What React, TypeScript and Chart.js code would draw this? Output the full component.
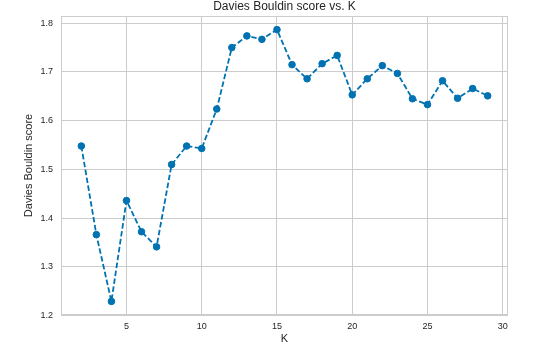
import React, { useEffect, useRef } from "react";
import { Chart, registerables } from "chart.js";

Chart.register(...registerables);

const kValues = [2, 3, 4, 5, 6, 7, 8, 9, 10, 11, 12, 13, 14, 15, 16, 17, 18, 19, 20, 21, 22, 23, 24, 25, 26, 27, 28, 29];
const dbScores = [
  1.548, 1.366, 1.229, 1.436, 1.372, 1.341, 1.510, 1.548, 1.543, 1.624,
  1.750, 1.774, 1.767, 1.787, 1.715, 1.686, 1.717, 1.734, 1.653, 1.686,
  1.713, 1.697, 1.645, 1.633, 1.682, 1.646, 1.666, 1.651,
];
const xTicks = [5, 10, 15, 20, 25, 30];
const yTicks = [1.2, 1.3, 1.4, 1.5, 1.6, 1.7, 1.8];

const FONT = "'Liberation Sans', Arial, sans-serif";
const LINE_COLOR = "#0072B2";
const GRID = "#cccccc";
const TEXT = "#262626";

const titlePlugin = {
  id: "customTitle",
  afterDraw(chart: any) {
    const { ctx, chartArea } = chart;
    ctx.save();
    ctx.font = `12px ${FONT}`;
    ctx.fillStyle = TEXT;
    ctx.textAlign = "center";
    ctx.textBaseline = "middle";
    ctx.fillText("Davies Bouldin score vs. K", (chartArea.left + chartArea.right) / 2, 7);
    ctx.restore();
  },
};

const framePlugin = {
  id: "frame",
  beforeDatasetsDraw(chart: any) {
    const { ctx, chartArea } = chart;
    ctx.save();
    ctx.strokeStyle = GRID;
    ctx.lineWidth = 1;
    ctx.strokeRect(
      Math.round(chartArea.left) + 0.5,
      Math.round(chartArea.top) + 0.5,
      Math.round(chartArea.right - chartArea.left) - 1,
      Math.round(chartArea.bottom - chartArea.top) - 1
    );
    ctx.restore();
  },
};

export default function App() {
  const ref = useRef<HTMLCanvasElement | null>(null);

  useEffect(() => {
    if (!ref.current) return;
    const dataPts = kValues.map((k, i) => ({ x: k, y: dbScores[i] }));
    const xMin = Math.min(...kValues);
    const xMax = Math.max(...kValues);
    const yMin = Math.min(...dbScores);
    const yMax = Math.max(...dbScores);
    const xm = (xMax - xMin) * 0.05;
    const ym = (yMax - yMin) * 0.05;
    const chart = new Chart(ref.current, {
      type: "line",
      data: {
        datasets: [
          {
            data: dataPts,
            borderColor: LINE_COLOR,
            backgroundColor: LINE_COLOR,
            borderWidth: 1.8,
            borderDash: [5.5, 2.5],
            pointRadius: 3.3,
            pointBorderWidth: 1,
            pointBackgroundColor: LINE_COLOR,
            pointBorderColor: LINE_COLOR,
            tension: 0,
            fill: false,
          },
        ],
      },
      options: {
        animation: false,
        responsive: false,
        events: [],
        layout: { padding: { top: 16, right: 25, left: 0, bottom: 0 } },
        plugins: {
          legend: { display: false },
          title: { display: false },
          tooltip: { enabled: false },
        },
        scales: {
          x: {
            type: "linear",
            min: xMin - xm,
            max: xMax + xm,
            afterFit(scale: any) {
              scale.height = 34;
            },
            afterBuildTicks(scale: any) {
              scale.ticks = xTicks.map((v) => ({ value: v }));
            },
            grid: { color: GRID, lineWidth: 1, drawTicks: false },
            border: { display: false },
            ticks: {
              padding: 6,
              color: TEXT,
              font: { family: FONT, size: 9 },
              maxRotation: 0,
              callback: (v: any) => String(v),
            },
            title: {
              display: true,
              text: "K",
              color: TEXT,
              font: { family: FONT, size: 11 },
              padding: { top: 0, bottom: 3.4 },
            },
          },
          y: {
            type: "linear",
            min: yMin - ym,
            max: yMax + ym,
            afterFit(scale: any) {
              scale.width = 61;
            },
            afterBuildTicks(scale: any) {
              scale.ticks = yTicks.map((v) => ({ value: v }));
            },
            grid: { color: GRID, lineWidth: 1, drawTicks: false },
            border: { display: false },
            ticks: {
              padding: 8,
              color: TEXT,
              font: { family: FONT, size: 9 },
              callback: (v: any) => Number(v).toFixed(1),
            },
            title: {
              display: true,
              text: "Davies Bouldin score",
              color: TEXT,
              font: { family: FONT, size: 11 },
              padding: { top: 22.4, bottom: 0 },
            },
          },
        },
      },
      plugins: [titlePlugin, framePlugin],
    });
    return () => chart.destroy();
  }, []);

  return (
    <div style={{ position: "absolute", left: 0, top: 0, width: 533, height: 349, background: "#ffffff" }}>
      <canvas ref={ref} width={533} height={349} style={{ display: "block" }} />
    </div>
  );
}
